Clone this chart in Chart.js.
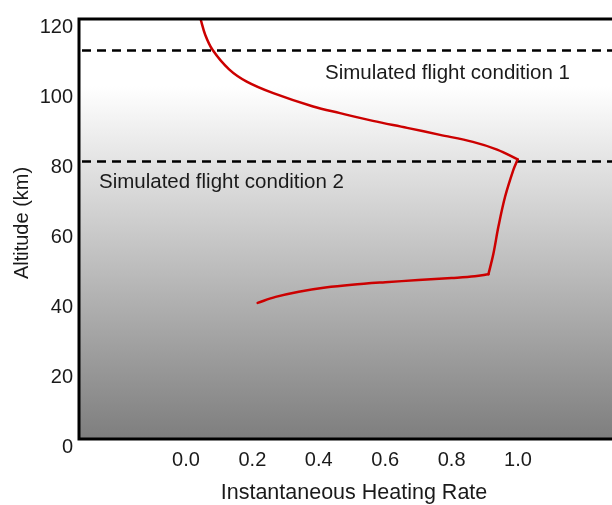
<!DOCTYPE html>
<html>
<head>
<meta charset="utf-8">
<script src="https://cdn.jsdelivr.net/npm/chart.js@4/dist/chart.umd.min.js"></script>
<style>
  html, body { margin: 0; padding: 0; background: #fff; }
  #wrap { width: 612px; height: 505px; }
</style>
</head>
<body>
<div id="wrap"><canvas id="heatChart" width="612" height="505"></canvas></div>
<script>
// heating profile, split at the two sharp corners
const upperRate = [0.044, 0.058, 0.080, 0.130, 0.183, 0.263, 0.383, 0.464, 0.563, 0.666, 0.765, 0.864, 0.937, 0.999];
const upperAlt  = [120, 115.5, 111.2, 105.6, 102.1, 98.8, 95.0, 93.1, 90.9, 88.9, 86.9, 84.9, 82.7, 79.9];
const middleRate = [0.999, 0.986, 0.961, 0.941, 0.926, 0.911];
const middleAlt  = [79.9, 76.9, 69.2, 60.7, 53.0, 47.1];
const lowerRate = [0.911, 0.87, 0.8, 0.7, 0.6, 0.5, 0.42, 0.34, 0.27, 0.216];
const lowerAlt  = [47.1, 46.5, 46.0, 45.4, 44.8, 44.1, 43.3, 42.1, 40.6, 38.9];

const xTicks = [0.0, 0.2, 0.4, 0.6, 0.8, 1.0];
const yTicks = [0, 20, 40, 60, 80, 100, 120];
const conditionAlt = [111, 79.5];
const conditionLabels = ['Simulated flight condition 1', 'Simulated flight condition 2'];

const FONT = 'Liberation Sans, Arial, Helvetica, sans-serif';
const RED = '#cc0000';

function toPoints(xs, ys) {
    return xs.map((v, i) => ({ x: v, y: ys[i] }));
}

function segment(xs, ys) {
    return {
        data: toPoints(xs, ys),
        showLine: true,
        borderColor: RED,
        borderWidth: 2.5,
        borderCapStyle: 'round',
        borderJoinStyle: 'round',
        pointRadius: 0,
        tension: 0.35,
        fill: false
    };
}

// gradient background + frame + dashed condition lines
const decorPlugin = {
    id: 'decor',
    beforeDraw(chart) {
        const { ctx, chartArea: a } = chart;
        const g = ctx.createLinearGradient(0, a.top, 0, a.bottom);
        g.addColorStop(0, '#ffffff');
        g.addColorStop(0.16, '#ffffff');
        g.addColorStop(1, '#7e7e7e');
        ctx.save();
        ctx.fillStyle = g;
        ctx.fillRect(a.left, a.top, a.right - a.left, a.bottom - a.top);

        const y = chart.scales.y;
        ctx.strokeStyle = '#000';
        ctx.lineWidth = 2.5;
        ctx.setLineDash([9, 6]);
        conditionAlt.forEach(v => {
            const py = Math.round(y.getPixelForValue(v)) + 0.5;
            ctx.beginPath();
            ctx.moveTo(a.left + 3, py);
            ctx.lineTo(a.right, py);
            ctx.stroke();
        });
        ctx.setLineDash([]);

        ctx.fillStyle = '#1a1a1a';
        ctx.font = '20.5px ' + FONT;
        ctx.textBaseline = 'alphabetic';
        ctx.textAlign = 'left';
        ctx.fillText(conditionLabels[0], 325, 79);
        ctx.fillText(conditionLabels[1], 99, 188);
        ctx.restore();
    },
    afterDraw(chart) {
        const { ctx, chartArea: a } = chart;
        ctx.save();
        ctx.strokeStyle = '#000';
        ctx.lineWidth = 3;
        ctx.beginPath();
        ctx.moveTo(a.right + 2, a.top);
        ctx.lineTo(a.left, a.top);
        ctx.lineTo(a.left, a.bottom);
        ctx.lineTo(a.right + 2, a.bottom);
        ctx.stroke();

        // axis titles
        ctx.fillStyle = '#1a1a1a';
        ctx.textAlign = 'center';
        ctx.textBaseline = 'middle';
        ctx.font = '21.5px ' + FONT;
        ctx.fillText('Instantaneous Heating Rate', 354, 493);
        ctx.font = '20px ' + FONT;
        ctx.translate(22, 223);
        ctx.rotate(-Math.PI / 2);
        ctx.fillText('Altitude (km)', 0, 0);
        ctx.restore();
    }
};

new Chart(document.getElementById('heatChart'), {
    type: 'scatter',
    data: {
        datasets: [
            segment(upperRate, upperAlt),
            segment(middleRate, middleAlt),
            segment(lowerRate, lowerAlt)
        ]
    },
    options: {
        responsive: false,
        animation: false,
        layout: { padding: { top: 19, right: 0, left: 0, bottom: 0 } },
        plugins: { legend: { display: false }, tooltip: { enabled: false } },
        scales: {
            x: {
                type: 'linear',
                min: -0.322,
                max: 1.283,
                grid: { display: false, drawTicks: false },
                border: { display: false },
                afterBuildTicks: s => { s.ticks = xTicks.map(v => ({ value: v })); },
                afterFit: s => { s.height = 66; },
                ticks: {
                    color: '#1a1a1a',
                    padding: 9,
                    maxRotation: 0,
                    font: { family: FONT, size: 20 },
                    callback: v => v.toFixed(1)
                }
            },
            y: {
                type: 'linear',
                min: 0,
                max: 120,
                grid: { display: false, drawTicks: false },
                border: { display: false },
                afterBuildTicks: s => { s.ticks = yTicks.map(v => ({ value: v })); },
                afterFit: s => { s.width = 79; },
                ticks: {
                    color: '#1a1a1a',
                    padding: 6,
                    labelOffset: 8,
                    font: { family: FONT, size: 20 }
                }
            }
        }
    },
    plugins: [decorPlugin]
});
</script>
</body>
</html>
